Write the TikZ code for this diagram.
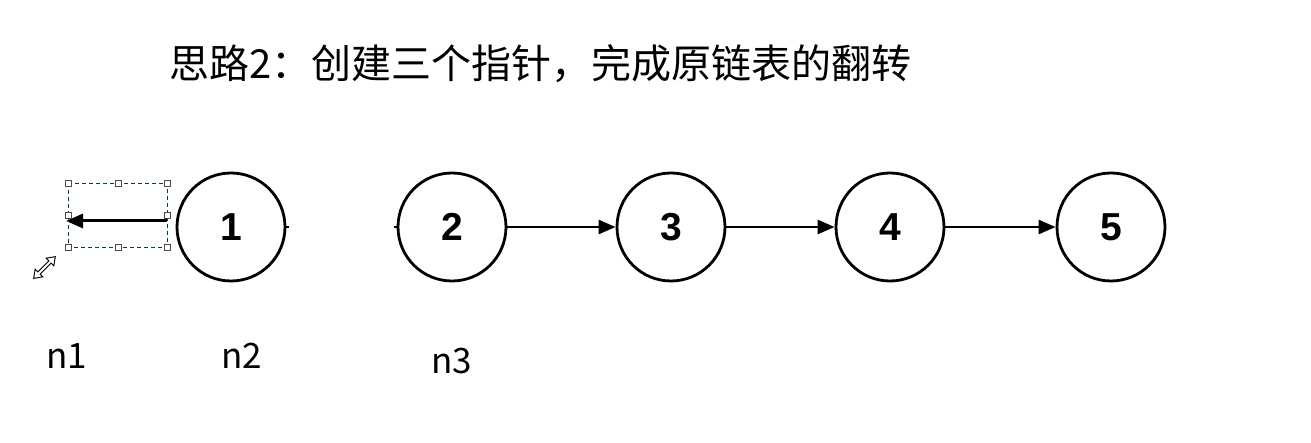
\documentclass[tikz,border=0pt]{standalone}
\usepackage{fontspec}
\setmainfont{Liberation Sans}
\newfontfamily\cjk{Noto Sans CJK SC}
\usetikzlibrary{arrows.meta}
\begin{document}
\begin{tikzpicture}[x=1pt,y=-1pt,
  listnode/.style={circle,draw,line width=2.8pt,minimum size=108pt,inner sep=0pt,font=\fontsize{39}{42}\selectfont\bfseries},
  link/.style={line width=2.6pt,-{Triangle[length=17pt,width=14pt]}},
  label/.style={font=\cjk\fontsize{35}{38}\selectfont,anchor=center},
  handle/.style={draw=black!70,fill=white,line width=0.8pt,minimum size=6pt,inner sep=0pt,rectangle},
  stub/.style={line width=2.8pt}]
\useasboundingbox (0,0) rectangle (1311,443);
\node[font=\cjk\fontsize{40}{44}\selectfont,anchor=west] (title) at (166,64) {思路2：创建三个指针，完成原链表的翻转};
\node[listnode] (c1) at (231,227) {1};
\node[listnode] (c2) at (452,227) {2};
\node[listnode] (c3) at (671,227) {3};
\node[listnode] (c4) at (890,227) {4};
\node[listnode] (c5) at (1111,227) {5};
\draw[link] (c2) -- (c3);
\draw[link] (c3) -- (c4);
\draw[link] (c4) -- (c5);
% reversed pointer of node 1 with selection box
\coordinate (ps) at (167,221);
\coordinate (pe) at (66,221);
\draw[link,line width=3pt] (ps) -- (pe);
\coordinate (bl) at (68,183);
\coordinate (br) at (167,247);
\draw[draw=teal!50!black,line width=0.9pt,dash pattern=on 4pt off 3pt] (bl) rectangle (br);
\foreach \hx/\hy [count=\i] in {68/183,118/183,167/183,68/215,167/215,68/247,118/247,167/247}
  \node[handle] (h\i) at (\hx,\hy) {};
% resize cursor
\coordinate (ra) at (33,279);
\coordinate (rb) at (56,256);
\draw[line width=4pt,{Triangle[length=9pt,width=12pt]}-{Triangle[length=9pt,width=12pt]}] (ra) -- (rb);
\draw[white,line width=2pt,{Triangle[length=6pt,width=8pt,fill=white]}-{Triangle[length=6pt,width=8pt,fill=white]},shorten <=1.8pt,shorten >=1.8pt] (ra) -- (rb);
% stubs
\draw[stub] (c1.east) -- ++(3,0);
\draw[stub] (c2.west) -- ++(-3,0);
\node[label] (n1) at (67,356) {n1};
\node[label] (n2) at (242,356) {n2};
\node[label] (n3) at (452,361) {n3};
\end{tikzpicture}
\end{document}
